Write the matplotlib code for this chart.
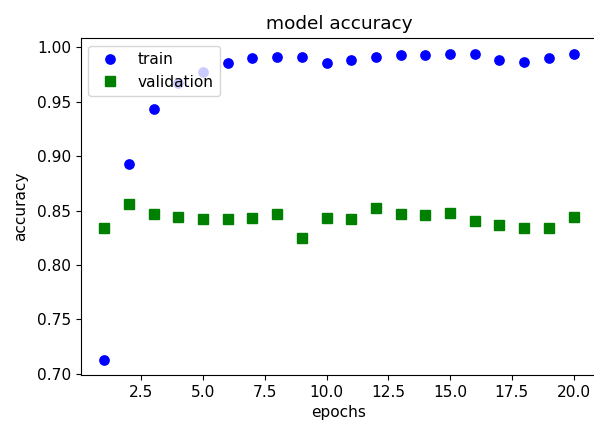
import matplotlib
matplotlib.use("Agg")
import matplotlib.pyplot as plt

epochs = list(range(1, 21))
train_acc = [0.713, 0.893, 0.943, 0.967, 0.977, 0.985, 0.990, 0.991, 0.991, 0.985,
             0.988, 0.991, 0.993, 0.993, 0.994, 0.994, 0.988, 0.986, 0.990, 0.994]
val_acc = [0.834, 0.856, 0.847, 0.844, 0.842, 0.842, 0.843, 0.847, 0.825, 0.843,
           0.842, 0.852, 0.847, 0.846, 0.848, 0.840, 0.837, 0.834, 0.834, 0.844]

plt.rcParams["font.size"] = 11.1

fig = plt.figure(figsize=(5.94, 4.21), dpi=100)
ax = fig.add_axes([0.136, 0.109, 0.869, 0.800])

ax.plot(epochs, train_acc, "bo", markersize=6.7, label="train")
ax.plot(epochs, val_acc, "gs", markersize=6.7, label="validation")

# right edge of the original figure is cropped off
ax.spines["right"].set_visible(False)

ax.set_title("model accuracy", fontsize=13.3, pad=7)
ax.set_xlabel("epochs", labelpad=4)
ax.set_ylabel("accuracy", labelpad=6)
ax.legend(loc="upper left")

fig.savefig("out.png", dpi=100)
